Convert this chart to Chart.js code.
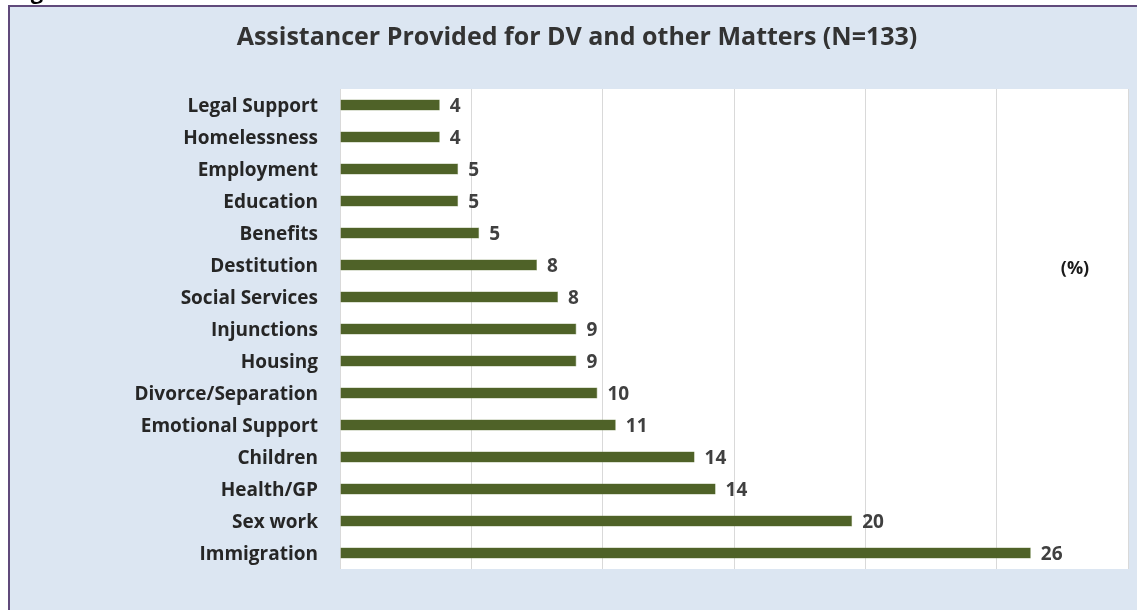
<!DOCTYPE html>
<html lang="en">
<head>
  <meta charset="UTF-8">
  <title>Assistance Provided for DV and other Matters</title>
  <script src="https://cdn.jsdelivr.net/npm/chart.js"></script>
  <style>
    html, body { margin: 0; padding: 0; background: #fff; }
    canvas { display: block; }
  </style>
</head>
<body>
  <canvas id="chart" width="1137" height="610"></canvas>

  <script>
    // categories, top to bottom
    const categories = [
      'Legal Support', 'Homelessness', 'Employment', 'Education', 'Benefits',
      'Destitution', 'Social Services', 'Injunctions', 'Housing',
      'Divorce/Separation', 'Emotional Support', 'Children', 'Health/GP',
      'Sex work', 'Immigration'
    ];
    // percentages (labels show them rounded)
    const percents = [3.8, 3.8, 4.5, 4.5, 5.3, 7.5, 8.3, 9.0, 9.0, 9.8, 10.5, 13.5, 14.3, 19.5, 26.3];

    const titleText = 'Assistancer Provided for DV and other Matters (N=133)';
    const unitText = '(%)';
    const FONT = '"Open Sans"';

    // background panel, border, white plot area
    const panel = {
      id: 'panel',
      beforeDraw(chart) {
        const { ctx, chartArea: a, width, height } = chart;
        ctx.save();
        ctx.fillStyle = '#ffffff';
        ctx.fillRect(0, 0, width, height);
        ctx.fillStyle = '#dce6f2';
        ctx.fillRect(9, 6, width - 9, height - 6);
        ctx.strokeStyle = '#604a7b';
        ctx.lineWidth = 2;
        ctx.beginPath();
        ctx.moveTo(9, height);
        ctx.lineTo(9, 6);
        ctx.lineTo(width, 6);
        ctx.stroke();
        ctx.fillStyle = '#ffffff';
        ctx.fillRect(a.left, a.top, a.right - a.left, a.bottom - a.top);
        // bit of the figure caption cut off above the box
        ctx.fillStyle = '#000000';
        ctx.font = 'bold 22px ' + FONT;
        ctx.textBaseline = 'alphabetic';
        ctx.fillText('Fig', 12, -1);
        ctx.restore();
      }
    };

    // value labels at the bar ends, plus the "(%)" note
    const valueLabels = {
      id: 'valueLabels',
      afterDatasetsDraw(chart) {
        const { ctx } = chart;
        const meta = chart.getDatasetMeta(0);
        ctx.save();
        ctx.font = 'bold 19px ' + FONT;
        ctx.fillStyle = '#404040';
        ctx.textAlign = 'left';
        ctx.textBaseline = 'middle';
        meta.data.forEach((bar, i) => {
          ctx.fillText(String(Math.round(percents[i])), bar.x + 10, bar.y + 2);
        });
        ctx.font = 'bold 18px ' + FONT;
        ctx.fillStyle = '#1a1a1a';
        ctx.textAlign = 'center';
        ctx.fillText(unitText, 1075, 269);
        ctx.restore();
      }
    };

    const ctx = document.getElementById('chart').getContext('2d');
    new Chart(ctx, {
      type: 'bar',
      data: {
        labels: categories,
        datasets: [{
          data: percents,
          backgroundColor: '#4f6228',
          borderColor: '#76884f',
          borderWidth: 0.6,
          barPercentage: 0.35,
          categoryPercentage: 1
        }]
      },
      options: {
        indexAxis: 'y',
        responsive: false,
        animation: false,
        layout: { padding: { left: 26, right: 9, top: 0, bottom: 41 } },
        plugins: {
          legend: { display: false },
          tooltip: { enabled: false },
          title: {
            display: true,
            text: titleText,
            color: '#333333',
            font: { family: 'Open Sans', size: 25, weight: 'bold' },
            padding: { top: 23, bottom: 36 }
          }
        },
        scales: {
          x: {
            min: 0,
            max: 30,
            ticks: { display: false, stepSize: 5 },
            grid: { color: '#d9d9d9', lineWidth: 1, drawTicks: false },
            border: { display: false }
          },
          y: {
            grid: { display: false },
            border: { display: false },
            ticks: {
              color: '#262626',
              padding: 14,
              labelOffset: 2,
              font: { family: 'Open Sans', size: 19, weight: 'bold' }
            },
            afterFit(scale) { scale.width = 314; }
          }
        }
      },
      plugins: [panel, valueLabels]
    });
  </script>
</body>
</html>
